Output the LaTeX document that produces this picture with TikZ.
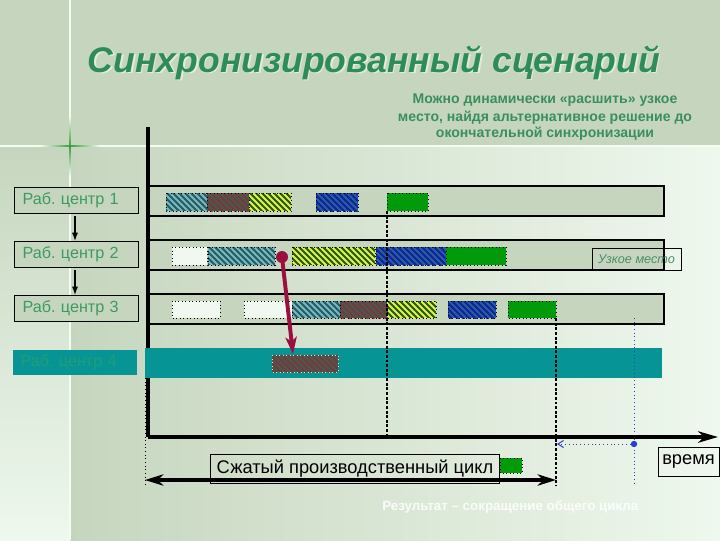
\documentclass[tikz,border=0pt]{standalone}
\usepackage{fontspec}
\setmainfont{Liberation Sans}
\usetikzlibrary{arrows.meta,calc}
\frenchspacing
\definecolor{bgTop}{HTML}{C6D6BE}
\definecolor{bgMid}{HTML}{DAE6D5}
\definecolor{bgLight}{HTML}{EEF8EE}
\definecolor{lineLight}{HTML}{F2FCF0}
\definecolor{crossGreen}{HTML}{3C9C3C}
\definecolor{titleGreen}{HTML}{2E8B5A}
\definecolor{titleShadow}{HTML}{E2ECDC}
\definecolor{subGreen}{HTML}{3A8F5E}
\definecolor{lblGreen}{HTML}{3E9A62}
\definecolor{rowFill}{HTML}{C6D6BE}
\definecolor{tealBand}{HTML}{079494}
\definecolor{tealText}{HTML}{1F9F78}
\definecolor{tealB}{HTML}{1D6262}
\definecolor{tealS}{HTML}{80B4C4}
\definecolor{brownB}{HTML}{3F5C55}
\definecolor{brownS}{HTML}{8E2F2F}
\definecolor{yelB}{HTML}{1F5A28}
\definecolor{yelS}{HTML}{E6F23C}
\definecolor{bluB}{HTML}{2C6088}
\definecolor{bluS}{HTML}{0A22B0}
\definecolor{grn}{HTML}{009A0A}
\definecolor{wht}{HTML}{F0F8F0}
\definecolor{redArrow}{HTML}{9A0F3E}
\definecolor{bluLine}{HTML}{2E3EC8}
\definecolor{narrowGreen}{HTML}{4E8C6C}
\definecolor{dotYel}{HTML}{E4EC9A}
% hatched block: x1,y1,x2,y2,base,stripe,stripe width,border colour
\newcommand\hatchblk[8]{%
  \begin{scope}
    \clip (#1,#2) rectangle (#3,#4);
    \fill[#5] (#1,#2) rectangle (#3,#4);
    \foreach \k in {-30,-24,...,90} {\draw[#6, line width=#7] ({#1+\k},{#2-4}) -- ++(30,30);}
  \end{scope}
  \draw[draw=#8, dotted, line width=0.5pt] (#1,#2) rectangle (#3,#4);}
\begin{document}
\begin{tikzpicture}[x=0.025cm,y=-0.025cm,
  blk/.style={draw=black, dotted, line width=0.5pt},
  solidG/.style={blk, fill=grn},
  solidW/.style={blk, fill=wht},
  rowband/.style={draw=black, line width=0.9pt, fill=rowFill},
  lbl/.style={draw=black, line width=0.8pt, fill=rowFill, text=lblGreen, font=\fontsize{11.5}{13}\selectfont,
     text width=2.7cm, align=left, inner sep=0pt, inner xsep=0.2cm, minimum height=0.65cm},
  subtxt/.style={text=subGreen, font=\fontsize{10}{12}\bfseries\selectfont, inner sep=0pt, anchor=base},
  dashv/.style={black, dash pattern=on 2.1pt off 1.2pt, line width=1.5pt},
  txtbox/.style={draw=black, line width=0.7pt, inner sep=0pt},
]
\useasboundingbox (0,0) rectangle (720,540);
% background
\fill[bgTop] (0,0) rectangle (720,540);
\shade[left color=bgTop, right color=bgLight, middle color=bgMid] (70,146) rectangle (720,540);
\shade[top color=bgTop, bottom color=bgLight] (0,146) rectangle (70,540);
\draw[lineLight, line width=1.2pt] (0,146) -- (720,146);
\draw[lineLight, line width=0.9pt] (70,0) -- (70,540);
\shade[left color=lineLight, right color=crossGreen] (40,145.2) rectangle (70,146.8);
\shade[left color=crossGreen, right color=lineLight] (70,145.2) rectangle (100,146.8);
\shade[top color=lineLight, bottom color=crossGreen] (69.2,116) rectangle (70.8,146);
\shade[top color=crossGreen, bottom color=lineLight] (69.2,146) rectangle (70.8,176);
% title
\node[text=titleShadow, font=\fontsize{25.3}{30}\bfseries\itshape\selectfont, anchor=base, inner sep=0pt] at (375.5,73.5) {Синхронизированный сценарий};
\node (title) [text=titleGreen, font=\fontsize{25.3}{30}\bfseries\itshape\selectfont, anchor=base, inner sep=0pt] at (374,72) {Синхронизированный сценарий};
\node (sub1) [subtxt] at (545,103) {Можно динамически «расшить» узкое};
\node (sub2) [subtxt] at (545,121) {место, найдя альтернативное решение до};
\node (sub3) [subtxt] at (545,137) {окончательной синхронизации};
% row bands
\path[rowband] (148,186) rectangle (664,216);
\path[rowband] (148,240) rectangle (664,270);
\path[rowband] (148,294) rectangle (664,324);
% vertical axis
\coordinate (axtop) at (148,127);
\coordinate (axo) at (148,437);
\coordinate (axend) at (718,437);
\draw[line width=2.6pt] (axtop) -- (axo);
% teal band row 4
\fill[tealBand] (145,348) rectangle (662,378);
% labels
\node (l1) [lbl, anchor=north west] at (14,187) {Раб. центр 1};
\node (l2) [lbl, anchor=north west] at (14,241) {Раб. центр 2};
\node (l3) [lbl, anchor=north west] at (14,295) {Раб. центр 3};
\node (l4) [lbl, draw=none, fill=tealBand, text=tealText, anchor=north west, minimum height=0.625cm] at (12,349) {Раб. центр 4};
\coordinate (ax) at (75,0);
\draw[line width=1pt, -{Latex[length=6pt,width=4.5pt]}] ($(l1.south -| ax)+(0,2)$) -- (l2.north -| ax);
\draw[line width=1pt, -{Latex[length=6pt,width=4.5pt]}] ($(l2.south -| ax)+(0,2)$) -- (l3.north -| ax);
% row 1 blocks
\hatchblk{166}{193}{207}{211}{tealB}{tealS}{1.4pt}{black}
\hatchblk{207}{193}{249}{211}{brownB}{brownS}{1.2pt}{black}
\hatchblk{249}{193}{291}{211}{yelB}{yelS}{1.5pt}{black}
\hatchblk{316}{193}{358}{211}{bluB}{bluS}{1.5pt}{black}
\path[solidG] (387,193) rectangle (428,211);
% row 2 blocks
\path[solidW] (172,247) rectangle (207,265);
\hatchblk{208}{247}{275}{265}{tealB}{tealS}{1.4pt}{black}
\hatchblk{292}{247}{375}{265}{yelB}{yelS}{1.5pt}{black}
\hatchblk{376}{247}{446}{265}{bluB}{bluS}{1.5pt}{black}
\path[solidG] (446,247) rectangle (506,265);
% row 3 blocks
\path[solidW] (172,301) rectangle (220,318);
\path[solidW] (244,301) rectangle (292,318);
\hatchblk{292}{301}{340}{318}{tealB}{tealS}{1.4pt}{black}
\hatchblk{340}{301}{387}{318}{brownB}{brownS}{1.2pt}{black}
\hatchblk{387}{301}{436}{318}{yelB}{yelS}{1.5pt}{black}
\hatchblk{448}{301}{496}{318}{bluB}{bluS}{1.5pt}{black}
\path[solidG] (508,301) rectangle (556,318);
% row 4 block
\hatchblk{272}{355}{338}{372}{brownB}{brownS}{1.2pt}{dotYel}
\coordinate (b4) at (293,354);
% dashed verticals
\coordinate (d1t) at (387,211);
\coordinate (d1b) at (387,434);
\coordinate (d2t) at (556,318);
\coordinate (d2b) at (556,486);
\draw[dashv] (d1t) -- (d1b);
\draw[dashv] (d2t) -- (d2b);
% blue dotted
\coordinate (bt) at (634,318);
\coordinate (bb) at (634,486);
\draw[bluLine, dotted, line width=0.6pt] (bt) -- (bb);
\node (bdot) [circle, fill=bluLine, inner sep=0pt, minimum size=0.16cm] at (634,444) {};
\coordinate (bl) at (557,444);
\draw[bluLine, dotted, line width=0.7pt, -{Straight Barb[length=4pt,width=5pt]}] (bdot) -- (bl);
% left dotted vertical
\coordinate (lt) at (145,378);
\coordinate (lb) at (145,486);
\draw[black, dotted, line width=0.6pt] (lt) -- (lb);
% red arrow
\node (rdot) [circle, fill=redArrow, inner sep=0pt, minimum size=0.3cm] at (282,257) {};
\draw[redArrow, line width=2.8pt, -{Stealth[length=12pt,width=8pt,inset=3pt]}] (rdot.center) -- (b4);
% horizontal axis
\draw[line width=2.6pt, -{Stealth[length=14pt,width=8pt,inset=4pt]}] (axo) -- (axend);
% cycle arrow
\coordinate (cl) at (145,480);
\coordinate (cr) at (556,480);
\draw[line width=2.4pt, {Stealth[length=13pt,width=8pt,inset=4pt]}-{Stealth[length=13pt,width=8pt,inset=4pt]}] (cl) -- (cr);
\node (cyc) [txtbox, minimum width=7.2cm, minimum height=0.725cm, font=\fontsize{13}{15}\selectfont] at (355,468.5) {Сжатый производственный цикл};
\path[solidG] (500,458) rectangle (522,473);
\node (uz) [txtbox, minimum width=2.225cm, minimum height=0.55cm, text=narrowGreen, font=\fontsize{9}{11}\itshape\selectfont] at (636.5,259) {Узкое место};
\node (vr) [txtbox, minimum width=1.525cm, minimum height=0.725cm, font=\fontsize{13}{15}\selectfont] at (688.5,461.5) {время};
\node (res) [text=white, opacity=0.85, font=\fontsize{9.5}{11}\bfseries\selectfont, anchor=base west, inner sep=0pt] at (382,510) {Результат – сокращение общего цикла};
\end{tikzpicture}
\end{document}
